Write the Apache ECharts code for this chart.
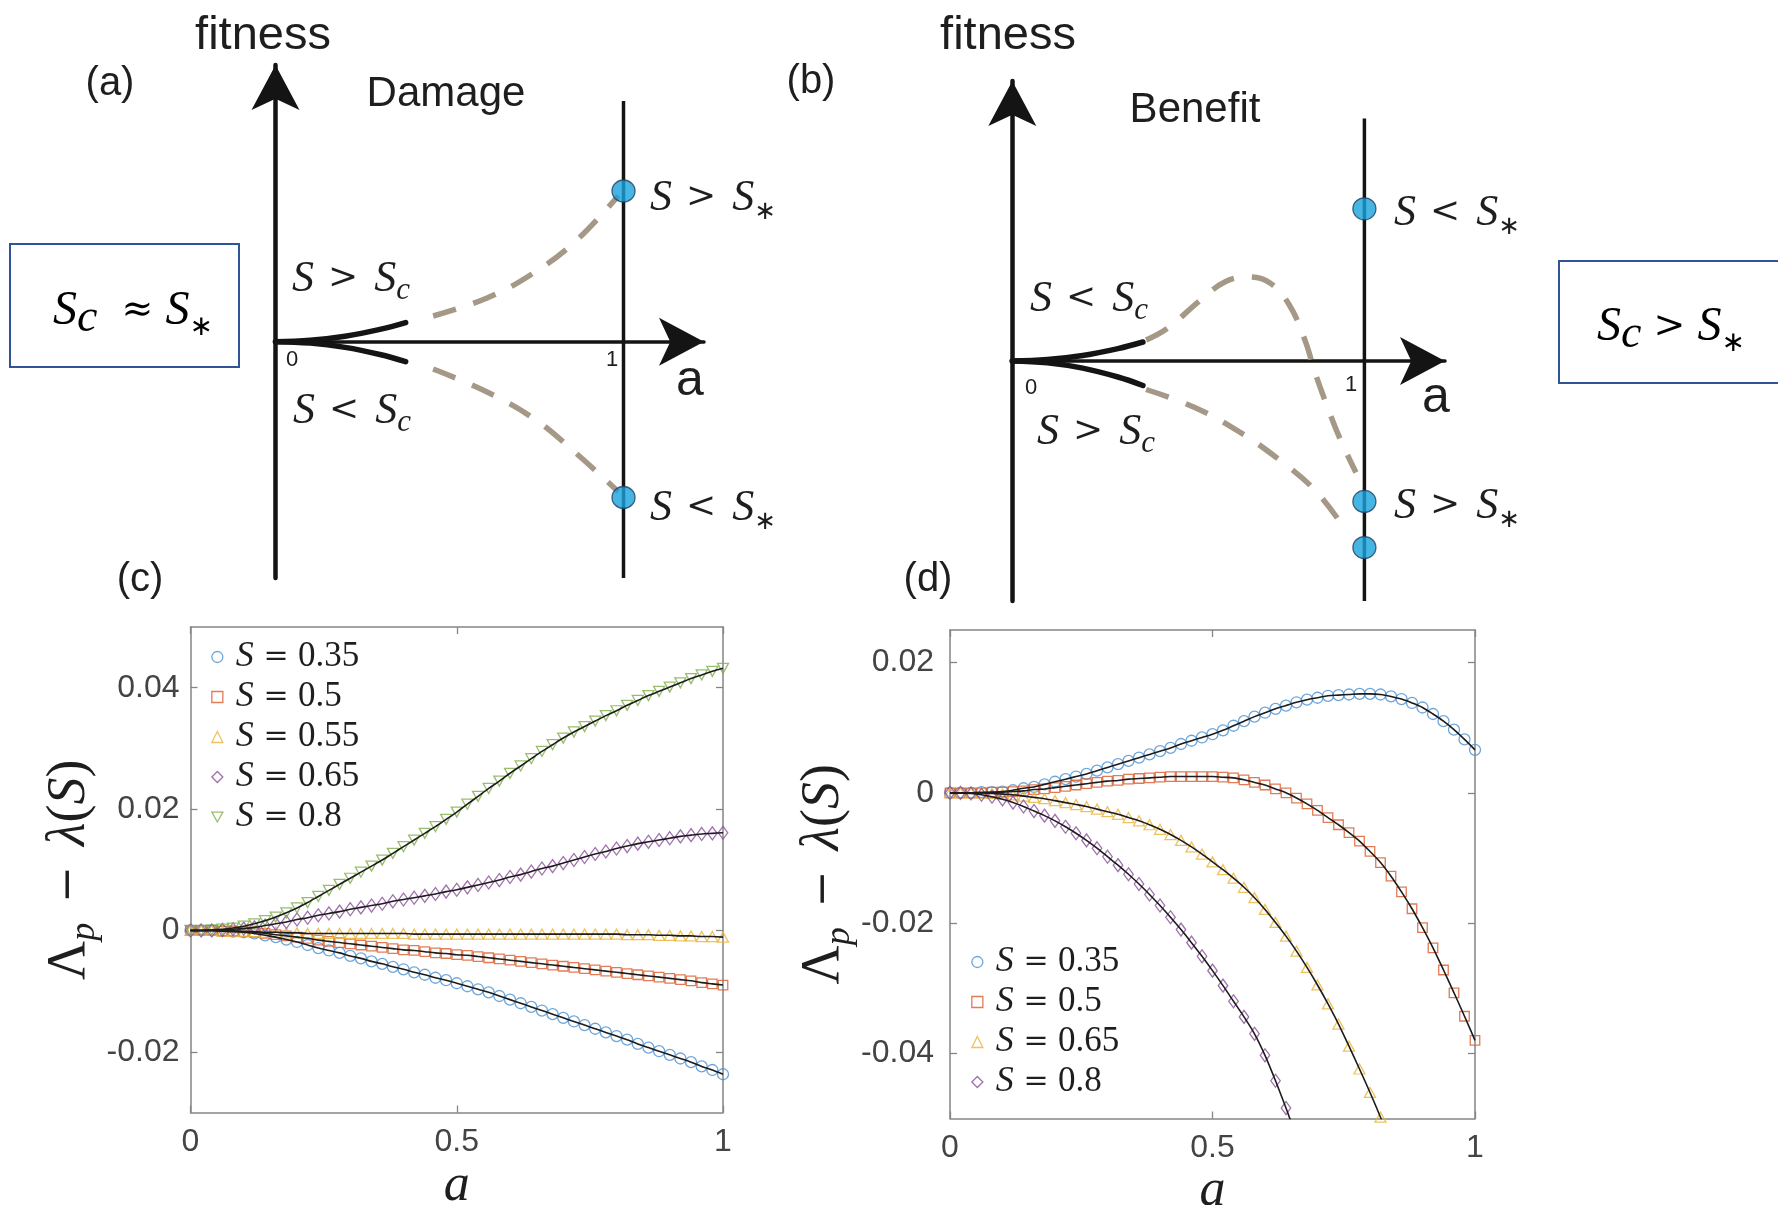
<!DOCTYPE html>
<html>
<head>
<meta charset="utf-8">
<title>Fitness of perturbed populations: damage vs benefit</title>
<script src="https://cdn.jsdelivr.net/npm/echarts@6/dist/echarts.min.js"></script>
<style>
  html, body { margin: 0; padding: 0; background: #ffffff; }
  #chart { width: 1778px; height: 1205px; }
</style>
</head>
<body>
<div id="chart"></div>
<script>
// ---------- data: simulation / theory curves, Λp − λ(S) against a ----------
const A = [0, 0.02, 0.04, 0.06, 0.08, 0.1, 0.12, 0.14, 0.16, 0.18, 0.2, 0.22, 0.24, 0.26, 0.28, 0.3,
  0.32, 0.34, 0.36, 0.38, 0.4, 0.42, 0.44, 0.46, 0.48, 0.5, 0.52, 0.54, 0.56, 0.58, 0.6, 0.62, 0.64,
  0.66, 0.68, 0.7, 0.72, 0.74, 0.76, 0.78, 0.8, 0.82, 0.84, 0.86, 0.88, 0.9, 0.92, 0.94, 0.96, 0.98, 1];

// (c) damage
const C_S_LABELS = ['0.35', '0.5', '0.55', '0.65', '0.8'];
const C_S035 = [0, 0, 0, -0.0001, -0.0002, -0.0003, -0.0005, -0.0008, -0.0011, -0.0015, -0.0019, -0.0024,
  -0.0029, -0.0033, -0.0037, -0.0042, -0.0046, -0.0051, -0.0055, -0.0060, -0.0064, -0.0069, -0.0073,
  -0.0078, -0.0082, -0.0087, -0.0092, -0.0097, -0.0102, -0.0108, -0.0114, -0.0120, -0.0126, -0.0132,
  -0.0138, -0.0144, -0.0150, -0.0156, -0.0162, -0.0168, -0.0174, -0.0180, -0.0187, -0.0193, -0.0199,
  -0.0205, -0.0211, -0.0217, -0.0224, -0.0230, -0.0237];
const C_S05 = [0, 0, 0, -0.0001, -0.0001, -0.0002, -0.0003, -0.0005, -0.0007, -0.0009, -0.0011, -0.0013,
  -0.0016, -0.0018, -0.0020, -0.0022, -0.0024, -0.0026, -0.0028, -0.0030, -0.0032, -0.0033, -0.0035,
  -0.0037, -0.0038, -0.0040, -0.0041, -0.0043, -0.0045, -0.0047, -0.0049, -0.0051, -0.0053, -0.0055,
  -0.0057, -0.0059, -0.0061, -0.0063, -0.0065, -0.0067, -0.0069, -0.0071, -0.0073, -0.0075, -0.0077,
  -0.0079, -0.0081, -0.0083, -0.0086, -0.0088, -0.0090];
const C_S055 = [0, 0, 0, -0.0001, -0.0001, -0.0002, -0.0002, -0.0003, -0.0003, -0.0004, -0.0004, -0.0005,
  -0.0005, -0.0005, -0.0005, -0.0005, -0.0005, -0.0005, -0.0005, -0.0005, -0.0005, -0.0006, -0.0006,
  -0.0006, -0.0006, -0.0006, -0.0006, -0.0006, -0.0006, -0.0006, -0.0006, -0.0006, -0.0006, -0.0006,
  -0.0006, -0.0006, -0.0006, -0.0006, -0.0006, -0.0006, -0.0006, -0.0007, -0.0007, -0.0007, -0.0008,
  -0.0008, -0.0009, -0.0009, -0.0010, -0.0010, -0.0011];
const C_S065 = [0, 0, 0, 0.0001, 0.0002, 0.0003, 0.0005, 0.0008, 0.0011, 0.0014, 0.0018, 0.0021, 0.0025,
  0.0028, 0.0031, 0.0035, 0.0038, 0.0041, 0.0044, 0.0048, 0.0051, 0.0054, 0.0057, 0.0060, 0.0064, 0.0067,
  0.0071, 0.0075, 0.0079, 0.0083, 0.0088, 0.0092, 0.0097, 0.0102, 0.0106, 0.0111, 0.0116, 0.0121, 0.0126,
  0.0130, 0.0135, 0.0139, 0.0143, 0.0146, 0.0149, 0.0152, 0.0155, 0.0157, 0.0159, 0.0160, 0.0161];
const C_S08 = [0, 0, 0.0001, 0.0002, 0.0004, 0.0007, 0.0011, 0.0016, 0.0022, 0.0029, 0.0037, 0.0046, 0.0056,
  0.0066, 0.0076, 0.0086, 0.0096, 0.0106, 0.0116, 0.0127, 0.0138, 0.0149, 0.0160, 0.0171, 0.0183, 0.0195,
  0.0208, 0.0221, 0.0234, 0.0246, 0.0259, 0.0271, 0.0283, 0.0295, 0.0306, 0.0317, 0.0327, 0.0336, 0.0345,
  0.0354, 0.0362, 0.0371, 0.0379, 0.0387, 0.0394, 0.0401, 0.0408, 0.0415, 0.0421, 0.0427, 0.0432];

// (d) benefit (curves leave the box at the bottom)
const D_S_LABELS = ['0.35', '0.5', '0.65', '0.8'];
const D_S035 = [0, 0, 0, 0.0001, 0.0001, 0.0002, 0.0004, 0.0007, 0.0009, 0.0013, 0.0017, 0.0021, 0.0025,
  0.0029, 0.0034, 0.0039, 0.0044, 0.0049, 0.0054, 0.0059, 0.0064, 0.0069, 0.0075, 0.0080, 0.0085, 0.0090,
  0.0096, 0.0103, 0.0110, 0.0117, 0.0123, 0.0129, 0.0134, 0.0139, 0.0143, 0.0146, 0.0149, 0.0150, 0.0151,
  0.0152, 0.0152, 0.0151, 0.0148, 0.0144, 0.0138, 0.0131, 0.0121, 0.0110, 0.0097, 0.0082, 0.0066];
const D_S05 = [0, 0, 0, 0, 0.0001, 0.0001, 0.0002, 0.0003, 0.0005, 0.0006, 0.0008, 0.0010, 0.0012, 0.0014,
  0.0016, 0.0018, 0.0019, 0.0021, 0.0022, 0.0023, 0.0024, 0.0025, 0.0025, 0.0025, 0.0025, 0.0025, 0.0024,
  0.0023, 0.0020, 0.0016, 0.0012, 0.0006, 0.0000, -0.0008, -0.0017, -0.0027, -0.0038, -0.0049, -0.0061,
  -0.0074, -0.0090, -0.0107, -0.0128, -0.0152, -0.0178, -0.0207, -0.0238, -0.0272, -0.0307, -0.0343, -0.0380];
const D_S065 = [0, 0, 0, 0, -0.0001, -0.0002, -0.0003, -0.0005, -0.0007, -0.0009, -0.0012, -0.0015, -0.0018,
  -0.0021, -0.0025, -0.0029, -0.0033, -0.0038, -0.0043, -0.0049, -0.0056, -0.0064, -0.0073, -0.0083,
  -0.0094, -0.0106, -0.0118, -0.0131, -0.0145, -0.0161, -0.0179, -0.0199, -0.0220, -0.0243, -0.0268,
  -0.0295, -0.0324, -0.0355, -0.0389, -0.0424, -0.0460, -0.0498, -0.0538];
const D_S08 = [0, 0, -0.0001, -0.0003, -0.0006, -0.0010, -0.0015, -0.0021, -0.0028, -0.0035, -0.0043,
  -0.0052, -0.0062, -0.0073, -0.0085, -0.0098, -0.0111, -0.0125, -0.0140, -0.0156, -0.0173, -0.0191,
  -0.0210, -0.0230, -0.0251, -0.0273, -0.0296, -0.0320, -0.0344, -0.0370, -0.0403, -0.0442, -0.0484, -0.0528];

// tick positions and labels
const X_TICKS = [0, 0.5, 1];
const X_TICK_LABELS = ['0', '0.5', '1'];
const Y_TICKS_C = [-0.02, 0, 0.02, 0.04];
const Y_TICK_LABELS_C = ['-0.02', '0', '0.02', '0.04'];
const Y_TICKS_D = [-0.04, -0.02, 0, 0.02];
const Y_TICK_LABELS_D = ['-0.04', '-0.02', '0', '0.02'];

// ---------- schematic sketches: fitness against a (x: a, y: fitness, arbitrary units) ----------
const DMG_UP_SOLID = [[0, 0], [0.1, 0.014], [0.2, 0.055], [0.3, 0.123], [0.374, 0.191]];
const DMG_LO_SOLID = [[0, 0], [0.1, -0.014], [0.2, -0.057], [0.3, -0.128], [0.374, -0.199]];
const DMG_UP_DASH = [[0.453, 0.257], [0.608, 0.437], [0.737, 0.677], [0.863, 1.007], [0.985, 1.46]];
const DMG_LO_DASH = [[0.453, -0.273], [0.608, -0.503], [0.744, -0.773], [0.863, -1.113], [0.985, -1.5]];
const DMG_DOTS = [[1, 1.507], [1, -1.558]];
const DMG_RULE = [[1, -2.363], [1, 2.407]];

const BEN_UP_SOLID = [[0, 0], [0.1, 0.014], [0.2, 0.055], [0.3, 0.124], [0.371, 0.19]];
const BEN_LO_SOLID = [[0, 0], [0.1, -0.018], [0.2, -0.071], [0.3, -0.16], [0.371, -0.245]];
const BEN_UP_DASH = [[0.38, 0.21], [0.442, 0.33], [0.533, 0.605], [0.606, 0.795], [0.669, 0.84],
  [0.732, 0.78], [0.786, 0.565], [0.831, 0.21], [0.859, -0.107], [0.895, -0.46], [0.931, -0.78], [0.976, -1.115]];
const BEN_LO_DASH = [[0.38, -0.285], [0.515, -0.46], [0.641, -0.70], [0.769, -1.016], [0.859, -1.29], [0.931, -1.61]];
const BEN_DOTS = [[1, 1.522], [1, -1.404], [1, -1.866]];
const BEN_RULE = [[1, -2.40], [1, 2.424]];

// ---------- styling ----------
const BLUE = '#4A8FD0', RED = '#D95A2B', YELLOW = '#E9B437', PURPLE = '#8A4C9A', GREEN = '#7DAE47';
const BOX = '#858585';
const INK = '#1e1e1e';
const FIT = '#1c1c1c';
const SANS = 'Liberation Sans';
const SERIF = 'Liberation Serif';
const DJ_SERIF = 'DejaVu Serif';
const DJ_SANS = 'DejaVu Sans';
const DOWN_TRI = 'path://M0,0 L10,0 L5,9 Z';

const C_STYLE = [
  { color: BLUE, symbol: 'circle', size: 11 },
  { color: RED, symbol: 'rect', size: 9.5 },
  { color: YELLOW, symbol: 'triangle', size: [11, 10] },
  { color: PURPLE, symbol: 'diamond', size: [9.5, 13] },
  { color: GREEN, symbol: DOWN_TRI, size: [11, 10] }
];
const D_STYLE = [
  { color: BLUE, symbol: 'circle', size: 11 },
  { color: RED, symbol: 'rect', size: 9.5 },
  { color: YELLOW, symbol: 'triangle', size: [11, 10] },
  { color: PURPLE, symbol: 'diamond', size: [9.5, 13] }
];
const C_VALUES = [C_S035, C_S05, C_S055, C_S065, C_S08];
const D_VALUES = [D_S035, D_S05, D_S065, D_S08];

function tickFormatter(ticks, labels) {
  return function (v) {
    const i = ticks.findIndex(t => Math.abs(t - v) < 1e-9);
    return i >= 0 ? labels[i] : '';
  };
}

// y-axis title Λp − λ(S)
const nameRich = {
  G: { fontFamily: SERIF, fontSize: 54, lineHeight: 66, color: INK },
  p: { fontFamily: SERIF, fontStyle: 'italic', fontSize: 36, lineHeight: 46, verticalAlign: 'bottom', color: INK },
  m: { fontFamily: DJ_SERIF, fontSize: 44, lineHeight: 66, padding: [0, 6, 0, 6], color: INK },
  r: { fontFamily: SERIF, fontSize: 54, lineHeight: 66, color: INK },
  g: { fontFamily: SERIF, fontStyle: 'italic', fontSize: 54, lineHeight: 66, color: INK },
  i: { fontFamily: SERIF, fontStyle: 'italic', fontSize: 54, lineHeight: 66, color: INK }
};
const Y_NAME = '{G|Λ}{p|p}{m| − }{g|λ}{r|(}{i|S}{r|)}';

function boxAxesX(grid, nameGap) {
  return [
    {
      gridIndex: grid, type: 'value', min: 0, max: 1, position: 'bottom',
      axisLine: { onZero: false, lineStyle: { color: BOX, width: 1.5 } },
      axisTick: { inside: true, length: 7, customValues: X_TICKS, lineStyle: { color: BOX, width: 1.3 } },
      axisLabel: { customValues: X_TICKS, formatter: tickFormatter(X_TICKS, X_TICK_LABELS),
        margin: 14, fontFamily: SANS, fontSize: 32, color: '#444' },
      splitLine: { show: false },
      name: 'a', nameLocation: 'middle', nameGap: nameGap,
      nameTextStyle: { fontFamily: SERIF, fontStyle: 'italic', fontSize: 52, color: INK }
    },
    {
      gridIndex: grid, type: 'value', min: 0, max: 1, position: 'top',
      axisLine: { onZero: false, lineStyle: { color: BOX, width: 1.5 } },
      axisTick: { inside: true, length: 7, customValues: X_TICKS, lineStyle: { color: BOX, width: 1.3 } },
      axisLabel: { show: false }, splitLine: { show: false }
    }
  ];
}
function boxAxesY(grid, min, max, ticks, labels, margin, nameGap) {
  return [
    {
      gridIndex: grid, type: 'value', min: min, max: max, position: 'left',
      axisLine: { onZero: false, lineStyle: { color: BOX, width: 1.5 } },
      axisTick: { inside: true, length: 7, customValues: ticks, lineStyle: { color: BOX, width: 1.3 } },
      axisLabel: { customValues: ticks, formatter: tickFormatter(ticks, labels),
        margin: margin, fontFamily: SANS, fontSize: 32, color: '#444' },
      splitLine: { show: false },
      name: Y_NAME, nameLocation: 'middle', nameGap: nameGap, nameRotate: 90,
      nameTextStyle: { fontFamily: SERIF, rich: nameRich }
    },
    {
      gridIndex: grid, type: 'value', min: min, max: max, position: 'right',
      axisLine: { onZero: false, lineStyle: { color: BOX, width: 1.5 } },
      axisTick: { inside: true, length: 7, customValues: ticks, lineStyle: { color: BOX, width: 1.3 } },
      axisLabel: { show: false }, splitLine: { show: false }
    }
  ];
}
// sketch axes: the arrow tip sits at the axis end
function sketchAxes(grid, xMax, yMin, yMax) {
  const arrow = { symbol: ['none', 'arrow'], symbolSize: [36, 45] };
  return {
    x: {
      gridIndex: grid, type: 'value', min: 0, max: xMax,
      axisLine: Object.assign({ onZero: true, lineStyle: { color: '#141414', width: 3.5 } }, arrow),
      axisTick: { show: false }, axisLabel: { show: false }, splitLine: { show: false }
    },
    y: {
      gridIndex: grid, type: 'value', min: yMin, max: yMax,
      axisLine: Object.assign({ onZero: true, lineStyle: { color: '#141414', width: 4.5 } }, arrow),
      axisTick: { show: false }, axisLabel: { show: false }, splitLine: { show: false }
    }
  };
}

const xAxes = [].concat(boxAxesX(0, 48), boxAxesX(1, 46));
const yAxes = [].concat(
  boxAxesY(0, -0.03, 0.05, Y_TICKS_C, Y_TICK_LABELS_C, 11, 75),
  boxAxesY(1, -0.05, 0.025, Y_TICKS_D, Y_TICK_LABELS_D, 16, 72)
);
const skA = sketchAxes(2, 1.2313, -2.363, 2.767);
const skB = sketchAxes(3, 1.2289, -2.40, 2.80);
xAxes.push(skA.x, skB.x);
yAxes.push(skA.y, skB.y);

const series = [];
function addPanel(values, styles, prefix, xi, yi) {
  values.forEach((vals, k) => {
    const pts = vals.map((v, i) => [A[i], v]);
    const st = styles[k];
    series.push({
      name: prefix + k, type: 'scatter', xAxisIndex: xi, yAxisIndex: yi, data: pts,
      symbol: st.symbol, symbolSize: st.size, clip: true, silent: true, z: 2,
      itemStyle: { color: 'rgba(0,0,0,0)', borderColor: st.color, borderWidth: 1.3 }
    });
    series.push({
      name: prefix + k + '-theory', type: 'line', xAxisIndex: xi, yAxisIndex: yi, data: pts,
      symbol: 'none', showSymbol: false, smooth: 0.3, clip: true, silent: true, z: 3,
      lineStyle: { color: FIT, width: 1.6 }
    });
  });
}
addPanel(C_VALUES, C_STYLE, 'c', 0, 0);
addPanel(D_VALUES, D_STYLE, 'd', 2, 2);

function sketchLine(data, xi, dashed) {
  series.push({
    type: 'line', xAxisIndex: xi, yAxisIndex: xi, data: data, symbol: 'none', smooth: 0.4,
    silent: true, z: 4, clip: false,
    lineStyle: dashed
      ? { color: '#A59886', width: 5.5, type: [24, 18], cap: 'butt' }
      : { color: '#141414', width: 5.5, cap: 'round' }
  });
}
function sketchRule(data, xi) {
  series.push({
    type: 'line', xAxisIndex: xi, yAxisIndex: xi, data: data, symbol: 'none', silent: true, z: 3,
    clip: false, lineStyle: { color: '#141414', width: 3.5 }
  });
}
function sketchDots(data, xi) {
  series.push({
    type: 'scatter', xAxisIndex: xi, yAxisIndex: xi, data: data, symbol: 'circle', symbolSize: [23, 22],
    silent: true, z: 6, clip: false,
    itemStyle: { color: '#18A3DD', borderColor: '#22405E', borderWidth: 1.3 }
  });
}
// (a) damage sketch
sketchRule(DMG_RULE, 4);
sketchLine(DMG_UP_SOLID, 4, false);
sketchLine(DMG_LO_SOLID, 4, false);
sketchLine(DMG_UP_DASH, 4, true);
sketchLine(DMG_LO_DASH, 4, true);
sketchDots(DMG_DOTS, 4);
// (b) benefit sketch
sketchRule(BEN_RULE, 5);
sketchLine(BEN_UP_SOLID, 5, false);
sketchLine(BEN_LO_SOLID, 5, false);
sketchLine(BEN_UP_DASH, 5, true);
sketchLine(BEN_LO_DASH, 5, true);
sketchDots(BEN_DOTS, 5);

// legends: square icon box, extra room before the text comes from the first token's padding
const legRich = {
  i: { fontFamily: SERIF, fontStyle: 'italic', fontSize: 36, lineHeight: 40, padding: [0, 0, 0, 8], color: INK },
  e: { fontFamily: DJ_SERIF, fontSize: 30, lineHeight: 40, color: INK },
  r: { fontFamily: SERIF, fontSize: 35, lineHeight: 40, color: INK }
};
function legendFor(prefix, labels, styles, left, top) {
  return {
    orient: 'vertical', left: left, top: top, padding: 0, itemGap: 0, itemWidth: 11, itemHeight: 11,
    selectedMode: false,
    data: labels.map((lab, k) => ({
      name: prefix + k,
      icon: styles[k].symbol,
      itemStyle: { color: 'rgba(0,0,0,0)', borderColor: styles[k].color, borderWidth: 1.3 }
    })),
    formatter: function (name) {
      const k = +name.slice(prefix.length);
      return '{i|S}{e| = }{r|' + labels[k] + '}';
    },
    textStyle: { fontFamily: SERIF, rich: legRich, lineHeight: 40 }
  };
}

// free text of the sketches
const mathRich = {
  i: { fontFamily: SERIF, fontStyle: 'italic', fontSize: 44, lineHeight: 54, fill: INK },
  o: { fontFamily: DJ_SERIF, fontSize: 36, lineHeight: 54, padding: [0, 16, 0, 14], fill: INK },
  s: { fontFamily: SERIF, fontStyle: 'italic', fontSize: 31, lineHeight: 43, verticalAlign: 'bottom', fill: INK },
  t: { fontFamily: DJ_SANS, fontSize: 26, lineHeight: 44, verticalAlign: 'bottom', fill: INK }
};
function label(x, y, text, size, family, extra) {
  return {
    type: 'text', x: x, y: y, silent: true, z: 10,
    style: Object.assign({
      text: text, fontFamily: family || SANS, fontSize: size, fill: INK,
      align: 'center', verticalAlign: 'middle'
    }, extra || {})
  };
}
function math(x, y, text) {
  return label(x, y, text, 44, SERIF, { rich: mathRich });
}
const boxRich = {
  S: { fontFamily: SERIF, fontStyle: 'italic', fontSize: 48, lineHeight: 62, fill: '#000' },
  c: { fontFamily: SERIF, fontStyle: 'italic', fontSize: 46, lineHeight: 46, verticalAlign: 'bottom', fill: '#000' },
  o: { fontFamily: DJ_SERIF, fontSize: 38, lineHeight: 62, fill: '#000' },
  t: { fontFamily: DJ_SANS, fontSize: 28, lineHeight: 31, verticalAlign: 'bottom', fill: '#000' }
};

const graphics = [
  label(110, 84, '(a)', 40),
  label(263, 36, 'fitness', 47),
  label(446, 94, 'Damage', 42),
  label(292, 360, '0', 22),
  label(612, 360, '1', 22),
  label(690, 381, 'a', 50),
  math(351, 279, '{i|S}{o|>}{i|S}{s|c}'),
  math(352, 411, '{i|S}{o|<}{i|S}{s|c}'),
  math(713, 198, '{i|S}{o|>}{i|S}{t|∗}'),
  math(713, 508, '{i|S}{o|<}{i|S}{t|∗}'),
  label(140, 580, '(c)', 40),

  label(811, 82, '(b)', 40),
  label(1008, 36, 'fitness', 47),
  label(1195, 110, 'Benefit', 42),
  label(1031, 388, '0', 22),
  label(1351, 385, '1', 22),
  label(1436, 398, 'a', 50),
  math(1089, 299, '{i|S}{o|<}{i|S}{s|c}'),
  math(1096, 432, '{i|S}{o|>}{i|S}{s|c}'),
  math(1457, 213, '{i|S}{o|<}{i|S}{t|∗}'),
  math(1457, 506, '{i|S}{o|>}{i|S}{t|∗}'),
  label(928, 580, '(d)', 40),

  {
    type: 'rect', silent: true, z: 10,
    shape: { x: 10, y: 244, width: 229, height: 123 },
    style: { fill: 'none', stroke: '#2F5597', lineWidth: 2 }
  },
  label(133, 311, '{S|S}{c|c}{o|  ≈ }{S|S}{t|∗}', 48, SERIF, { rich: boxRich }),
  {
    type: 'rect', silent: true, z: 10,
    shape: { x: 1559, y: 261, width: 240, height: 122 },
    style: { fill: 'none', stroke: '#2F5597', lineWidth: 2 }
  },
  label(1671, 327, '{S|S}{c|c}{o| > }{S|S}{t|∗}', 48, SERIF, { rich: boxRich })
];

const option = {
  animation: false,
  backgroundColor: '#ffffff',
  grid: [
    { left: 190.5, top: 627, width: 532.5, height: 485.5, outerBoundsMode: 'none' },
    { left: 950, top: 630, width: 525, height: 488.5, outerBoundsMode: 'none' },
    { left: 275.5, top: 65, width: 428.5, height: 513, outerBoundsMode: 'none' },
    { left: 1012.3, top: 81, width: 432.7, height: 520, outerBoundsMode: 'none' }
  ],
  xAxis: xAxes,
  yAxis: yAxes,
  legend: [
    legendFor('c', C_S_LABELS, C_STYLE, 211.2, 637),
    legendFor('d', D_S_LABELS, D_STYLE, 971.2, 942)
  ],
  series: series,
  graphic: graphics
};

const chart = echarts.init(document.getElementById('chart'), null, { renderer: 'canvas', width: 1778, height: 1205 });
chart.setOption(option);
</script>
</body>
</html>
